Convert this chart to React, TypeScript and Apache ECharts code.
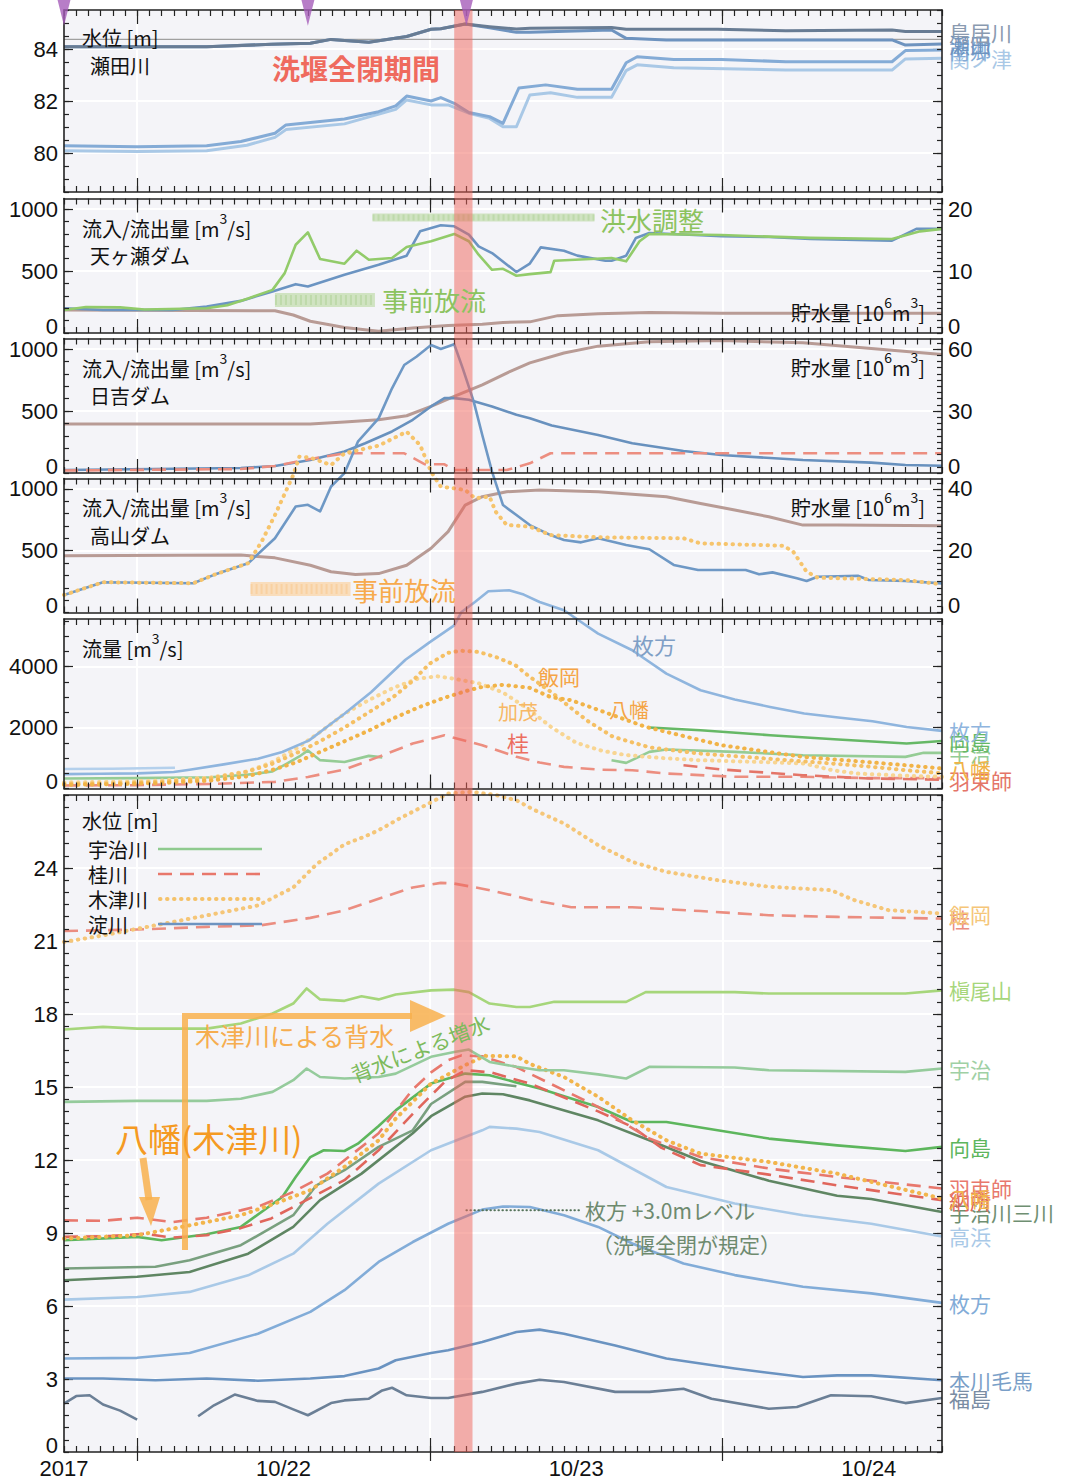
import React, { useEffect, useRef } from 'react';
import * as echarts from 'echarts';

type P = [number, number];

// ---------- time axis: hours since 2017-10-21 00:00 ----------
const T_MIN = 18;
const T_MAX = 90;
const MIDNIGHT_TICKS = [24, 48, 72];
const DATE_LABEL_AT = [18, 36, 60, 84];
const DATE_LABELS = ['2017', '10/22', '10/23', '10/24'];
const WEIR_CLOSED = [50, 51.5];
const MARKER_HOURS = [18, 38, 51];

// ---------- tick labels ----------
const SETA_LABELS = [80, 82, 84];
const DAM_LABELS = [0, 500, 1000];
const AMAGASE_STORAGE_LABELS = [0, 10, 20];
const HIYOSHI_STORAGE_LABELS = [0, 30, 60];
const TAKAYAMA_STORAGE_LABELS = [0, 20, 40];
const FLOW_LABELS = [0, 2000, 4000];
const LEVEL_LABELS = [0, 3, 6, 9, 12, 15, 18, 21, 24];

// ---------- panel 1 : 瀬田川 水位 [m] ----------
const TORIIGAWA: P[] = [[18,84.09],[24,84.09],[29.7,84.09],[35,84.18],[38.2,84.22],[39.9,84.37],[43,84.26],[46.1,84.48],[48.1,84.76],[48.9,84.78],[50.9,84.96],[52.9,84.86],[55.1,84.77],[56.2,84.8],[62.9,84.83],[64.1,84.76],[71.6,84.76],[77.2,84.7],[85.9,84.73],[87,84.67],[90,84.67]];
const SETA: P[] = [[18,84.09],[24,84.09],[29.7,84.09],[35,84.18],[38.2,84.22],[39.9,84.37],[43,84.26],[46.1,84.48],[48.1,84.76],[48.9,84.78],[50.9,84.96],[52.9,84.82],[55.1,84.64],[56.2,84.64],[62.9,84.73],[64.1,84.41],[67.4,84.35],[85.9,84.35],[87,84.15],[90,84.19]];
const NANGO: P[] = [[18,80.28],[24,80.24],[29.7,80.28],[32.5,80.44],[35.3,80.76],[36.2,81.08],[38.2,81.17],[41,81.31],[43.8,81.59],[45.2,81.81],[46.1,82.19],[48.1,82.0],[48.9,82.13],[50,81.91],[51.2,81.56],[52.9,81.4],[54,81.14],[55.3,82.5],[57.5,82.62],[60.1,82.45],[62.9,82.45],[64.1,83.47],[65,83.7],[68,83.6],[71.9,83.6],[77.2,83.51],[85.9,83.51],[87,83.94],[90,83.96]];
const SEKINOTSU: P[] = [[18,80.09],[24,80.06],[29.7,80.09],[33,80.3],[35.3,80.6],[36.2,80.9],[41,81.12],[45.2,81.68],[46.1,82.04],[48.1,81.85],[49.5,81.85],[51.2,81.53],[52.9,81.33],[54,81.01],[55.1,81.01],[56.2,82.23],[57.9,82.32],[60.1,82.14],[62.9,82.14],[64.1,83.17],[65,83.39],[68,83.28],[77.2,83.19],[85.9,83.19],[87,83.62],[90,83.64]];
const SETA_REF_LEVEL: P[] = [[18,84.37],[90,84.37]];

// ---------- panel 2 : 天ヶ瀬ダム ----------
const AMAGASE_IN: P[] = [[18,200],[21.2,186],[26.9,186],[29.7,213],[32.5,259],[35.1,335],[37,394],[38,375],[41,470],[43.8,551],[46.1,624],[47.2,820],[48.9,869],[50,861],[51.2,794],[52,699],[53.1,645],[55.1,492],[56.2,560],[57.1,691],[59,664],[60.1,624],[62.4,583],[62.9,583],[64.1,624],[64.9,767],[66,807],[70.2,788],[71.9,780],[75.8,775],[79.2,758],[85.9,745],[87.9,840],[90,840]];
const AMAGASE_OUT: P[] = [[18,186],[19.8,210],[22.6,207],[24.6,190],[29.7,200],[31.4,224],[33.1,278],[35.1,348],[36.1,483],[37,712],[38,812],[39,597],[41,559],[42,664],[43,591],[44.9,605],[46.1,694],[48.1,740],[50,799],[51.2,740],[52,632],[53.1,510],[54,518],[55.1,462],[56.2,475],[57.9,491],[58.2,583],[62.9,605],[64.1,578],[65.2,740],[66,799],[71.9,790],[79.2,767],[85.9,758],[88.2,820],[90,840]];
const AMAGASE_STORAGE: P[] = [[18,3.7],[35.3,3.6],[36.8,2.9],[38.2,1.9],[41,0.9],[43.8,0.3],[46.6,0.8],[49.5,1.2],[52.3,1.4],[54,1.7],[56.2,1.8],[58.5,2.8],[61.8,3.1],[66,3.3],[71.9,3.2],[90,3.2]];
const AMAGASE_PRE_RELEASE: P[] = [[35.3,267],[43.5,267]];
const AMAGASE_FLOOD_CONTROL: P[] = [[43.3,932],[61.5,932]];

// ---------- panel 3 : 日吉ダム ----------
const HIYOSHI_IN: P[] = [[18,24],[32.5,40],[35.3,57],[38.2,105],[41,173],[42.7,240],[44.9,335],[46.6,429],[48.1,537],[49.2,604],[50,604],[51.2,591],[53.1,537],[55.1,470],[56.2,442],[58,383],[61.8,307],[64.6,240],[68.8,178],[71.9,145],[78.6,105],[84.2,84],[87,65],[90,59]];
const HIYOSHI_OUT: P[] = [[18,20],[32.5,32],[35.3,57],[38.2,113],[41,159],[45.9,159],[47.6,70],[49.2,70],[50,24],[54.3,24],[56.2,78],[57.9,159],[90,159]];
const HIYOSHI_STORAGE: P[] = [[18,23.7],[38.2,23.7],[41,24.7],[43.8,25.8],[46.1,27.7],[48.1,32.2],[50,37.1],[52.3,42.7],[54.6,49.2],[56.2,53.3],[59,58.1],[61.8,61.4],[66,63.5],[71.9,64.1],[78.6,63],[84.2,60.3],[90,57.4]];

// ---------- panel 4 : 高山ダム ----------
const TAKAYAMA_IN: P[] = [[18,142],[21.2,245],[28.6,237],[30.3,305],[33.1,399],[35.3,601],[37,858],[38,872],[39,818],[39.9,1020],[41,1128],[42.1,1383],[43.8,1572],[44.9,1815],[45.9,2004],[46.9,2071],[48.1,2166],[48.9,2134],[50,2172],[50.7,1977],[51.6,1707],[52.3,1437],[53.1,1140],[54,870],[55.1,789],[56.2,708],[57.9,627],[59,587],[60.4,568],[61.8,601],[64.1,547],[66,512],[68,385],[70,344],[73.9,344],[75,309],[76.1,325],[78.1,277],[78.9,255],[79.8,290],[83.1,298],[84,263],[87,255],[90,236]];
const TAKAYAMA_OUT: P[] = [[18,142],[21.2,245],[28.6,237],[30.3,305],[33.1,399],[34.2,573],[35.3,789],[36.8,1113],[37.3,1262],[38.2,1254],[39.9,1194],[41,1289],[43.8,1351],[46.1,1464],[47.2,1356],[48.1,1140],[48.9,1019],[50,1005],[50.9,992],[51.7,925],[52.9,938],[53.4,816],[54.3,709],[56.2,695],[57.9,627],[61.8,609],[68.8,601],[70.2,560],[77,541],[77.8,492],[78.9,330],[79.8,282],[87,263],[90,228]];
const TAKAYAMA_STORAGE: P[] = [[18,18.4],[32.5,18.6],[35.3,17.7],[38.2,15.3],[39.9,13.2],[41.9,12.3],[43.8,12.6],[46.1,15.3],[48.1,20.8],[49.5,26.2],[50.9,34.8],[52.3,37.5],[54.3,39.1],[57,39.7],[61.8,39.1],[67.4,37.5],[70.2,35.3],[73,33.2],[75.8,31],[78.6,28.3],[81.4,28.3],[90,28.1]];
const TAKAYAMA_PRE_RELEASE: P[] = [[33.3,190],[41.5,190]];

// ---------- panel 5 : 流量 [m3/s] ----------
const HIRAKATA_Q: P[] = [[18,470],[21,485],[24,495],[27,540],[28.3,617],[31.1,792],[33.9,978],[35.9,1197],[38.1,1579],[39.9,2126],[41,2454],[43.2,3164],[46,4224],[48,4803],[50,5350],[50.6,5790],[51.7,6118],[52.8,6469],[54.5,6502],[55.7,6361],[57,6118],[59,5846],[61.8,5082],[64.6,4534],[67.4,3770],[70.2,3223],[73,2918],[75.9,2675],[78.7,2459],[81.5,2328],[84.3,2207],[87.1,2020],[90,1889]];
const TAKAHAMA_Q: P[] = [[18,640],[22,650],[27.1,680]];
const IIOKA_Q: P[] = [[18,150],[22,170],[26,220],[30,330],[33,550],[35,800],[37,1150],[39,1550],[41,2000],[43,2500],[45,3000],[46.5,3500],[48,4100],[49.5,4450],[50.5,4520],[52,4480],[53.5,4300],[55,4050],[56.2,3660],[58,3150],[59.8,2570],[61,2200],[63,1700],[66,1350],[70,1150],[75,1000],[80,850],[84,720],[87,600],[90,500]];
const KAMO_Q: P[] = [[18,200],[22,220],[26,260],[30,360],[33,560],[35,850],[37,1300],[39,1850],[41,2450],[43,2900],[45,3300],[47,3600],[48.6,3680],[50,3600],[52,3450],[54,3150],[56.2,2570],[58,2000],[60,1500],[62,1250],[64,1100],[67,1000],[70,930],[75,870],[78.7,820],[81,600],[83,492],[87,420],[90,383]];
const YAWATA_Q: P[] = [[18,120],[22,140],[26,180],[30,260],[33,400],[35,600],[37,850],[39,1200],[41,1550],[43,1900],[45,2300],[47,2650],[49,2950],[51,3200],[52.3,3333],[54,3400],[56.2,3300],[57.9,3000],[59.6,2895],[65.7,2021],[71.9,1420],[78.6,1038],[87,765],[90,656]];
const KATSURA_Q: P[] = [[18,100],[24,110],[30,150],[35.3,218],[38,380],[41,620],[43.8,1038],[46.6,1475],[49.2,1748],[52.3,1420],[55.1,1038],[57,850],[59,710],[61.8,620],[64.6,600],[67.4,492],[73,383],[78.6,383],[84.2,340],[90,340]];
const HAZUKASHI_Q: P[] = [[68.8,765],[71.9,623],[78.6,437],[84,330],[90,290]];
const MUKAIJIMA_Q: P[] = [[66,2000],[70.2,1913],[75.9,1749],[81.5,1607],[87.1,1475],[90,1560]];
const UJI_Q_A: P[] = [[18,330],[24,340],[30,370],[33,450],[35.1,560],[36.2,800],[37.3,1050],[38,1250],[39,930],[41,870],[43,1070],[44.1,1020]];
const UJI_Q_B: P[] = [[62.9,929],[64.1,841],[66,1202],[67.4,1279],[73,1202],[78.6,1093],[87,1038],[88.5,1170],[90,1170]];

// ---------- panel 6 : 水位 [m] ----------
const IIOKA_H: P[] = [[18,20.96],[21.2,21.23],[26.9,21.78],[33.9,22.46],[36.8,23.2],[38.7,24.15],[41,24.97],[42.7,25.3],[43.8,25.55],[45.5,26.03],[48.1,26.7],[49.5,27.06],[51.4,27.13],[53.4,27.0],[55.1,26.78],[56.5,26.4],[59,25.83],[61.8,24.94],[64.6,24.25],[67.4,23.84],[71.6,23.5],[75.8,23.23],[80.9,23.09],[82.8,22.68],[85.6,22.27],[90,22.13]];
const KATSURA_H: P[] = [[18,21.41],[24,21.47],[29.7,21.58],[34.2,21.65],[38.2,21.95],[41,22.26],[43.8,22.74],[46.6,23.2],[48.9,23.39],[50,23.36],[52.3,23.15],[55.1,22.84],[56.2,22.7],[59.6,22.39],[64.6,22.39],[70.2,22.23],[75.8,22.06],[81.4,21.99],[90,21.92]];
const MAKINOOSAN_H: P[] = [[18,17.36],[21.2,17.47],[24,17.4],[29.7,17.4],[32.5,17.61],[35.1,18.02],[36.8,18.43],[37.9,19.05],[39,18.6],[41,18.54],[42.4,18.73],[43.8,18.6],[45.2,18.8],[48.1,18.97],[50,19.0],[51.2,18.9],[52.9,18.43],[55.1,18.29],[56.2,18.29],[58.2,18.5],[64.1,18.5],[65.7,18.9],[73,18.9],[75.8,18.84],[87,18.84],[90,18.97]];
const UJI_H: P[] = [[18,14.39],[24,14.43],[29.7,14.43],[32.5,14.52],[35.1,14.8],[36.8,15.28],[37.9,15.76],[39,15.41],[41,15.35],[43.8,15.41],[45.2,15.55],[48.1,16.24],[50,16.44],[51.2,16.54],[52.9,16.03],[55.1,15.83],[57,15.69],[59,15.69],[61.8,15.52],[64.1,15.35],[66,15.83],[73,15.8],[75.8,15.69],[87,15.62],[90,15.76]];
const MUKAIJIMA_H: P[] = [[18,8.7],[24,8.84],[26,8.7],[29.7,8.95],[32.5,9.25],[35.9,10.48],[37,11.3],[38.2,12.12],[39.3,12.4],[41,12.37],[42.1,12.67],[43.8,13.4],[45.2,14.04],[48.1,15.14],[50.9,15.55],[52.9,15.48],[55,15.2],[57,14.94],[61.8,14.18],[64.6,13.56],[67.4,13.56],[71.6,13.22],[75.8,12.88],[81.4,12.6],[87,12.37],[90,12.54]];
const HAZUKASHI_H: P[] = [[18,9.52],[21.2,9.5],[24,9.63],[26.9,9.45],[29.7,9.63],[32.5,9.93],[34.2,10.14],[36.8,10.69],[39.6,11.44],[42.4,12.54],[43.8,13.1],[45.2,14.0],[46.6,14.9],[48.1,15.6],[49.5,16.1],[50.6,16.3],[52.3,16.26],[55.1,15.82],[56.2,15.55],[61.8,14.18],[66,12.88],[70.2,12.12],[75.8,11.65],[81.4,11.3],[90,10.83]];
const NODO_H: P[] = [[18,8.84],[22,8.88],[24.6,8.97],[26.9,8.81],[29.7,8.91],[32.5,9.2],[35,9.6],[37.6,10.28],[41,11.17],[43.8,12.4],[46.6,13.9],[49.2,15.2],[50.9,15.69],[53,15.6],[56.2,15.14],[61.8,14.0],[64.6,13.36],[67,12.5],[70.2,11.79],[75.8,11.4],[81.4,10.96],[90,10.35]];
const YAWATA_H: P[] = [[18,8.77],[24,8.91],[26.9,9.18],[29.7,9.45],[32.5,9.73],[35.3,10.21],[38.2,10.76],[41,11.72],[43.8,12.81],[45.2,13.7],[48.1,15.14],[50.9,15.9],[52.5,16.28],[55.1,16.26],[56.2,15.95],[59,15.41],[61.8,14.6],[64.6,13.63],[67.4,12.81],[70.2,12.26],[75.8,11.92],[81.4,11.44],[84.2,11.1],[90,10.42]];
const MIYUKI_H: P[] = [[18,7.54],[25.5,7.61],[28.3,7.88],[32.5,8.5],[36.8,9.73],[38.7,10.96],[41,11.58],[43.8,12.54],[46.6,13.22],[48.1,14.3],[50.9,15.21],[52.3,15.21],[55.1,15.03]];
const SANSEN_H: P[] = [[18,7.06],[24,7.2],[28.3,7.4],[33.1,8.15],[36.8,9.25],[39,10.35],[42.4,11.44],[46.6,13.1],[48.1,13.8],[50.9,14.6],[52.3,14.73],[54,14.7],[56.2,14.45],[61.8,13.63],[66,12.81],[70.2,11.96],[75.8,11.15],[81.4,10.53],[84.2,10.4],[90,9.86]];
const TAKAHAMA_H: P[] = [[18,6.26],[24,6.37],[28.3,6.58],[33.1,7.26],[36.8,8.15],[39.6,9.38],[43.8,11.03],[48.1,12.4],[52.3,13.22],[52.9,13.36],[55.1,13.29],[57,13.15],[61.8,12.4],[67.4,10.89],[73,10.21],[78.6,9.73],[84.2,9.38],[90,8.86]];
const HIRAKATA_H: P[] = [[18,3.84],[24,3.87],[28.3,4.07],[33.9,4.86],[38.2,5.76],[41,6.65],[43.8,7.81],[46.6,8.63],[49.5,9.38],[52.3,9.96],[54,10.09],[56.2,10.07],[59,9.73],[61.8,9.25],[64.6,8.57],[68.8,7.75],[73,7.27],[78.6,6.79],[84.2,6.52],[90,6.13]];
const KEMA_H: P[] = [[18,3.02],[21.2,3.02],[25.5,2.95],[29.7,3.02],[33.9,2.93],[38.2,3.02],[41,3.12],[43.8,3.43],[45.2,3.77],[48.1,4.07],[49.5,4.18],[52.3,4.52],[55.1,4.93],[57,5.03],[59,4.86],[63.2,4.38],[67.4,3.84],[73,3.43],[78.6,3.08],[81.4,3.15],[84.2,3.15],[90,2.95]];
const FUKUSHIMA_H_A: P[] = [[18,1.99],[19,2.3],[20.1,2.33],[21.2,1.95],[22.6,1.7],[24,1.33]];
const FUKUSHIMA_H_B: P[] = [[29,1.47],[30.3,1.92],[32,2.36],[33.9,2.1],[35.3,2.06],[36.8,1.75],[38,1.51],[39.9,2.01],[41,2.12],[43,2.19],[44.1,2.53],[44.9,2.64],[46.1,2.33],[48.1,2.22],[49.5,2.22],[52.3,2.47],[55.1,2.81],[57,2.97],[59,2.88],[63.2,2.47],[66,2.47],[68.8,2.6],[71.1,2.19],[75.8,1.78],[78.1,1.85],[80.9,2.33],[84.2,2.29],[87,2.01],[90,2.22]];
const HIRAKATA_PLUS3: P[] = [[51,9.93],[60.4,9.93]];

// ---------- styling ----------
const FONT = '"Liberation Sans", "Noto Sans CJK JP", sans-serif';
const JFONT = '"Noto Sans CJK JP", "Noto Sans", sans-serif';
const INK = '#111';
const TICK = { color: '#222', width: 1.2 };
const FRAME = { show: true, onZero: false, lineStyle: { color: '#222', width: 1.6 } };
const NOLINE = { show: false, onZero: false };
const DOT = [0.5, 6.5];
const DASH = [14, 8];

const PANELS = [
  { top: 10, height: 182, yMin: 78.5, yMax: 85.5, labels: SETA_LABELS, minor: 0.5 },
  { top: 198.5, height: 134.5, yMin: 0, yMax: 1085, labels: DAM_LABELS, minor: 100, rMax: 21.7, rLabels: AMAGASE_STORAGE_LABELS, rMinor: 1 },
  { top: 338.5, height: 134.5, yMin: 0, yMax: 1085, labels: DAM_LABELS, minor: 100, rMax: 65.1, rLabels: HIYOSHI_STORAGE_LABELS, rMinor: 3 },
  { top: 478.5, height: 134, yMin: 0, yMax: 1085, labels: DAM_LABELS, minor: 100, rMax: 43.4, rLabels: TAKAYAMA_STORAGE_LABELS, rMinor: 2 },
  { top: 619, height: 169.5, yMin: 0, yMax: 5560, labels: FLOW_LABELS, minor: 500 },
  { top: 795, height: 657, yMin: 0, yMax: 27, labels: LEVEL_LABELS, minor: 0.5 },
];

function steps(a: number, b: number, s: number) {
  const out: number[] = [];
  for (let k = 0; a + k * s <= b + 1e-9; k++) out.push(+(a + k * s).toFixed(6));
  return out;
}
const HOURLY = steps(T_MIN, T_MAX, 1);

const numLabel = (custom: number[]) => ({
  show: true,
  customValues: custom,
  fontSize: 22,
  color: INK,
  fontFamily: FONT,
  margin: 6,
  formatter: (v: number) => (v === 0 ? '{z|0}' : String(v)),
  rich: { z: { fontSize: 22, fontFamily: FONT, color: INK, padding: [0, 0, 14, 0] } },
});

function buildAxes() {
  const xAxis: any[] = [];
  const yAxis: any[] = [];
  PANELS.forEach((p: any, i) => {
    const xb = { type: 'value', gridIndex: i, min: T_MIN, max: T_MAX, splitLine: { show: false }, axisLabel: { show: false } };
    xAxis.push({ ...xb, position: 'bottom', z: 3, axisLine: FRAME, axisTick: { show: true, inside: true, length: 6, customValues: HOURLY, lineStyle: TICK } });
    xAxis.push({ ...xb, position: 'bottom', axisLine: NOLINE, axisTick: { show: true, inside: true, length: 14, customValues: MIDNIGHT_TICKS, lineStyle: TICK }, splitLine: { show: true, lineStyle: { color: '#fff', width: 2 } } });
    xAxis.push({ ...xb, position: 'top', z: 3, axisLine: FRAME, axisTick: { show: true, inside: true, length: 6, customValues: HOURLY, lineStyle: TICK } });
    xAxis.push({ ...xb, position: 'top', axisLine: NOLINE, axisTick: { show: true, inside: true, length: 14, customValues: MIDNIGHT_TICKS, lineStyle: TICK } });

    const yb = { type: 'value', gridIndex: i, min: p.yMin, max: p.yMax, splitLine: { show: false }, axisLabel: { show: false } };
    const inner = p.labels.filter((v: number) => v > p.yMin && v < p.yMax);
    const minors = steps(p.yMin, p.yMax, p.minor);
    yAxis.push({ ...yb, position: 'left', axisLine: NOLINE, axisTick: { show: true, inside: true, length: 9, customValues: inner, lineStyle: TICK }, axisLabel: numLabel(p.labels), splitLine: { show: true, lineStyle: { color: '#fff', width: 2 } } });
    yAxis.push({ ...yb, position: 'left', z: 3, axisLine: FRAME, axisTick: { show: true, inside: true, length: 5, customValues: minors, lineStyle: TICK } });
    if (p.rMax) {
      const rb = { ...yb, min: 0, max: p.rMax };
      yAxis.push({ ...rb, position: 'right', axisLine: NOLINE, axisTick: { show: true, inside: true, length: 9, customValues: p.rLabels.filter((v: number) => v > 0 && v < p.rMax), lineStyle: TICK }, axisLabel: numLabel(p.rLabels) });
      yAxis.push({ ...rb, position: 'right', z: 3, axisLine: FRAME, axisTick: { show: true, inside: true, length: 5, customValues: steps(0, p.rMax, p.rMinor), lineStyle: TICK } });
    } else {
      yAxis.push({ ...yb, position: 'right', axisLine: NOLINE, axisTick: { show: true, inside: true, length: 9, customValues: inner, lineStyle: TICK } });
      yAxis.push({ ...yb, position: 'right', z: 3, axisLine: FRAME, axisTick: { show: true, inside: true, length: 5, customValues: minors, lineStyle: TICK } });
    }
  });
  // date labels under the last panel
  xAxis.push({
    type: 'value', gridIndex: 5, min: T_MIN, max: T_MAX, position: 'bottom', axisLine: NOLINE, splitLine: { show: false },
    axisTick: { show: true, inside: false, length: 9, customValues: MIDNIGHT_TICKS, lineStyle: TICK },
    axisLabel: { show: true, customValues: DATE_LABEL_AT, fontSize: 22, color: INK, fontFamily: FONT, margin: 5,
      formatter: (v: number) => DATE_LABELS[DATE_LABEL_AT.indexOf(v)] ?? '' },
  });
  return { xAxis, yAxis };
}

function ln(name: string, data: P[], panel: number, color: string, o: any = {}) {
  return {
    type: 'line', name, data, xAxisIndex: panel * 4, yAxisIndex: panel * 4 + (o.right ? 2 : 0),
    symbol: 'none', showSymbol: false, clip: false, silent: true, z: o.z ?? 2,
    emphasis: { disabled: true },
    lineStyle: { color, width: o.width ?? 2.6, type: o.type ?? 'solid', cap: o.cap ?? 'butt', join: 'round', opacity: o.opacity ?? 1 },
    itemStyle: { color },
    endLabel: o.label
      ? { show: true, formatter: o.label, color: o.labelColor ?? color, fontSize: 21, fontFamily: JFONT, distance: 7 }
      : { show: false },
  };
}
const dotted = { type: DOT, cap: 'round', width: 4 };
const dashed = { type: DASH, width: 2.6 };

function buildSeries() {
  const S: any[] = [];
  // panel 1
  S.push(ln('ref', SETA_REF_LEVEL, 0, '#a0a0a0', { width: 1.2 }));
  S.push(ln('関ノ津', SEKINOTSU, 0, '#a9c8e6', { width: 3, label: '関ノ津' }));
  S.push(ln('南郷', NANGO, 0, '#84abd6', { width: 3, label: '南郷' }));
  S.push(ln('瀬田', SETA, 0, '#6e93bf', { width: 3, label: '瀬田' }));
  S.push(ln('鳥居川', TORIIGAWA, 0, '#687c94', { width: 3, label: '鳥居川', labelColor: '#8a9ab0' }));
  S.push({
    type: 'scatter', xAxisIndex: 0, yAxisIndex: 0, clip: false, silent: true, z: 30,
    data: MARKER_HOURS.map((h) => [h, 85.39]), symbol: 'triangle', symbolRotate: 180, symbolSize: [13, 26],
    itemStyle: { color: '#a55cb9' },
  });
  // panel 2
  S.push(ln('band1', AMAGASE_PRE_RELEASE, 1, '#c4ddb0', { width: 14, opacity: 0.75, z: 1 }));
  S.push(ln('band2', AMAGASE_FLOOD_CONTROL, 1, '#c4ddb0', { width: 8, opacity: 0.75, z: 1 }));
  S.push(ln('band1b', AMAGASE_PRE_RELEASE, 1, '#b3d39b', { width: 10, type: [2, 3], opacity: 0.6, z: 1 }));
  S.push(ln('band2b', AMAGASE_FLOOD_CONTROL, 1, '#b3d39b', { width: 6, type: [2, 3], opacity: 0.6, z: 1 }));
  S.push(ln('天ヶ瀬貯水量', AMAGASE_STORAGE, 1, '#b89b95', { right: true, width: 3 }));
  S.push(ln('天ヶ瀬流入', AMAGASE_IN, 1, '#6b94c2'));
  S.push(ln('天ヶ瀬放流', AMAGASE_OUT, 1, '#92cb6a'));
  // panel 3
  S.push(ln('日吉貯水量', HIYOSHI_STORAGE, 2, '#b89b95', { right: true, width: 3 }));
  S.push(ln('日吉流入', HIYOSHI_IN, 2, '#6891be'));
  S.push(ln('日吉放流', HIYOSHI_OUT, 2, '#ec8e80', dashed));
  // panel 4
  S.push(ln('band3', TAKAYAMA_PRE_RELEASE, 3, '#fad7ad', { width: 14, opacity: 0.8, z: 1 }));
  S.push(ln('band3b', TAKAYAMA_PRE_RELEASE, 3, '#f8c98f', { width: 10, type: [2, 3], opacity: 0.6, z: 1 }));
  S.push(ln('高山貯水量', TAKAYAMA_STORAGE, 3, '#b89b95', { right: true, width: 3 }));
  S.push(ln('高山流入', TAKAYAMA_IN, 3, '#6e98c5'));
  S.push(ln('高山放流', TAKAYAMA_OUT, 3, '#f6c46c', dotted));
  // panel 5
  S.push(ln('高浜Q', TAKAHAMA_Q, 4, '#b4d0ec'));
  S.push(ln('宇治Qa', UJI_Q_A, 4, '#95cc95'));
  S.push(ln('宇治Qb', UJI_Q_B, 4, '#95cc95', { label: '宇治' }));
  S.push(ln('向島Q', MUKAIJIMA_Q, 4, '#66b866', { label: '向島' }));
  S.push(ln('桂Q', KATSURA_Q, 4, '#ec8e80', dashed));
  S.push(ln('羽束師Q', HAZUKASHI_Q, 4, '#e47568', { ...dashed, label: '羽束師' }));
  S.push(ln('加茂Q', KAMO_Q, 4, '#f8d592', dotted));
  S.push(ln('飯岡Q', IIOKA_Q, 4, '#f5c064', dotted));
  S.push(ln('八幡Q', YAWATA_Q, 4, '#f1b347', { ...dotted, label: '八幡' }));
  S.push(ln('枚方Q', HIRAKATA_Q, 4, '#8fb5de', { label: '枚方' }));
  // panel 6
  S.push(ln('福島a', FUKUSHIMA_H_A, 5, '#6b7f96'));
  S.push(ln('福島', FUKUSHIMA_H_B, 5, '#6b7f96', { label: '福島', labelColor: '#7a8ca3' }));
  S.push(ln('本川毛馬', KEMA_H, 5, '#6a93c1', { label: '本川毛馬', labelColor: '#7a9fc8' }));
  S.push(ln('枚方', HIRAKATA_H, 5, '#82acd8', { label: '枚方' }));
  S.push(ln('枚方+3', HIRAKATA_PLUS3, 5, '#55735a', { type: [0.5, 3.5], cap: 'round', width: 2 }));
  S.push(ln('高浜', TAKAHAMA_H, 5, '#a9c9e7', { label: '高浜' }));
  S.push(ln('宇治川三川', SANSEN_H, 5, '#5f8663', { label: '宇治川三川', labelColor: '#6f8f72' }));
  S.push(ln('御幸橋', MIYUKI_H, 5, '#79a07f'));
  S.push(ln('向島', MUKAIJIMA_H, 5, '#5db65d', { label: '向島' }));
  S.push(ln('納所', NODO_H, 5, '#e0665c', { ...dashed, label: '納所' }));
  S.push(ln('羽束師', HAZUKASHI_H, 5, '#e8786d', { ...dashed, label: '羽束師' }));
  S.push(ln('八幡', YAWATA_H, 5, '#f2b54c', { ...dotted, label: '八幡' }));
  S.push(ln('宇治', UJI_H, 5, '#95cb9c', { label: '宇治', labelColor: '#9fd0a5' }));
  S.push(ln('槇尾山', MAKINOOSAN_H, 5, '#a6d67b', { label: '槇尾山' }));
  S.push(ln('桂', KATSURA_H, 5, '#eb8d80', { ...dashed, label: '桂' }));
  S.push(ln('飯岡', IIOKA_H, 5, '#f5c678', { ...dotted, label: '飯岡' }));
  return S;
}

// ---------- annotations ----------
const SUP = { s: { fontSize: 14, fill: INK, color: INK, fontFamily: JFONT, padding: [0, 0, 20, 0] } };
function txt(x: number, y: number, text: string, size: number, fill: string, extra: any = {}) {
  return {
    type: 'text', x, y, z: 40, silent: true, rotation: extra.rotation ?? 0,
    style: {
      text, fill, fontSize: size, fontFamily: JFONT, fontWeight: extra.fontWeight ?? 'normal',
      align: extra.align ?? 'left', textAlign: extra.align ?? 'left',
      verticalAlign: 'middle', textVerticalAlign: 'middle', rich: extra.rich,
    },
  };
}
function seg(x1: number, y1: number, x2: number, y2: number, stroke: string, width: number, dash?: number[], cap = 'butt') {
  return { type: 'line', z: 40, silent: true, shape: { x1, y1, x2, y2 }, style: { stroke, lineWidth: width, lineDash: dash, lineCap: cap } };
}
function annotations() {
  const ARROW = 'rgba(248,176,78,0.85)';
  return [
    txt(82, 37, '水位 [m]', 20, INK),
    txt(90, 65, '瀬田川', 20, INK),
    txt(272, 68, '洗堰全閉期間', 28, '#ef6a5e', { fontWeight: 'bold' }),

    txt(82, 228, '流入/流出量 [m{s|3}/s]', 20, INK, { rich: SUP }),
    txt(90, 255, '天ヶ瀬ダム', 20, INK),
    txt(925, 312, '貯水量 [10{s|6}m{s|3}]', 20, INK, { rich: SUP, align: 'right' }),
    txt(382, 299, '事前放流', 26, '#8cc35f'),
    txt(600, 219, '洪水調整', 26, '#8cc35f'),

    txt(82, 368, '流入/流出量 [m{s|3}/s]', 20, INK, { rich: SUP }),
    txt(90, 395, '日吉ダム', 20, INK),
    txt(925, 367, '貯水量 [10{s|6}m{s|3}]', 20, INK, { rich: SUP, align: 'right' }),

    txt(82, 507, '流入/流出量 [m{s|3}/s]', 20, INK, { rich: SUP }),
    txt(90, 535, '高山ダム', 20, INK),
    txt(925, 507, '貯水量 [10{s|6}m{s|3}]', 20, INK, { rich: SUP, align: 'right' }),
    txt(352, 589, '事前放流', 26, '#f7aa4d'),

    txt(82, 648, '流量 [m{s|3}/s]', 20, INK, { rich: SUP }),
    txt(632, 644, '枚方', 22, '#7f9fc6'),
    txt(538, 676, '飯岡', 21, '#f5a445'),
    txt(498, 711, '加茂', 20, '#f7b865'),
    txt(609, 709, '八幡', 20, '#f5a445'),
    txt(507, 742, '桂', 22, '#ec6d60'),

    txt(82, 820, '水位 [m]', 20, INK),
    txt(88, 849, '宇治川', 20, INK),
    txt(88, 874, '桂川', 20, INK),
    txt(88, 899, '木津川', 20, INK),
    txt(88, 924, '淀川', 20, INK),
    seg(158, 849, 262, 849, '#8fca8f', 2.6),
    seg(158, 874, 262, 874, '#e8776b', 2.6, DASH),
    seg(160, 899, 262, 899, '#f5c26a', 4, DOT, 'round'),
    seg(158, 924, 262, 924, '#6d93c0', 2.6),

    { type: 'polyline', z: 35, silent: true, shape: { points: [[185, 1250], [185, 1016], [412, 1016]] }, style: { stroke: ARROW, lineWidth: 6, fill: null } },
    { type: 'polygon', z: 35, silent: true, shape: { points: [[410, 1000], [446, 1016], [410, 1032]] }, style: { fill: ARROW } },
    { type: 'line', z: 35, silent: true, shape: { x1: 143, y1: 1158, x2: 149, y2: 1200 }, style: { stroke: ARROW, lineWidth: 7 } },
    { type: 'polygon', z: 35, silent: true, shape: { points: [[139, 1197], [160, 1197], [151, 1226]] }, style: { fill: ARROW } },
    txt(195, 1035, '木津川による背水', 25, '#f6ad4f'),
    txt(420, 1048, '背水による増水', 21, '#7dbb5c', { align: 'center', rotation: 0.375 }),
    txt(115, 1138, '八幡(木津川)', 33, '#f59a22'),
    txt(585, 1210, '枚方 +3.0mレベル', 21, '#6e8a6f'),
    txt(592, 1244, '（洗堰全閉が規定）', 21, '#6e8a6f'),
  ];
}

function buildOption() {
  const { xAxis, yAxis } = buildAxes();
  return {
    animation: false,
    backgroundColor: '#ffffff',
    textStyle: { fontFamily: JFONT },
    grid: PANELS.map((p) => ({
      left: 64, right: 124, top: p.top, height: p.height, show: true, backgroundColor: '#f4f4f8',
      borderWidth: 0, containLabel: false, outerBoundsMode: 'none',
    })),
    xAxis,
    yAxis,
    series: buildSeries(),
    graphic: annotations(),
  };
}

export default function App() {
  const ref = useRef<HTMLDivElement>(null);
  useEffect(() => {
    if (!ref.current) return;
    const chart = echarts.init(ref.current, null, { renderer: 'svg' });
    chart.setOption(buildOption());
    const x1 = chart.convertToPixel({ xAxisIndex: 0 }, WEIR_CLOSED[0]) as number;
    const x2 = chart.convertToPixel({ xAxisIndex: 0 }, WEIR_CLOSED[1]) as number;
    const yTop = chart.convertToPixel({ yAxisIndex: 0 }, PANELS[0].yMax) as number;
    const yBot = chart.convertToPixel({ yAxisIndex: 20 }, PANELS[5].yMin) as number;
    chart.setOption({
      graphic: [
        ...annotations(),
        { type: 'rect', z: 20, silent: true, shape: { x: x1, y: yTop, width: x2 - x1, height: yBot - yTop }, style: { fill: 'rgba(240,100,90,0.5)' } },
      ],
    });
    return () => chart.dispose();
  }, []);
  return <div ref={ref} style={{ position: 'absolute', left: 0, top: 0, width: 1066, height: 1480, background: '#fff' }} />;
}
